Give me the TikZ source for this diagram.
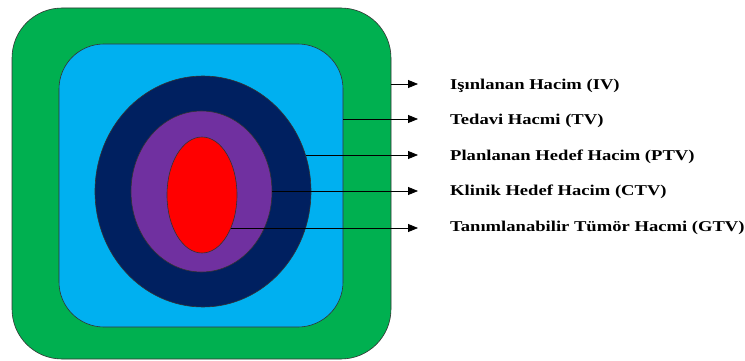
\documentclass[tikz,border=0pt]{standalone}
\usepackage{fontspec}
\setmainfont{Liberation Serif}
\newfontfamily\lblfont[FakeStretch=1.24]{Liberation Serif}
\usetikzlibrary{arrows.meta,shapes.geometric}
\definecolor{cgreen}{HTML}{00B050}
\definecolor{cblue}{HTML}{00B0F0}
\definecolor{cnavy}{HTML}{002060}
\definecolor{cpurple}{HTML}{7030A0}
\definecolor{cred}{HTML}{FF0000}
\tikzset{
  zone/.style={draw=black!80, line width=0.6pt},
  lbl/.style={anchor=west, font=\lblfont\bfseries\fontsize{15}{17}\selectfont, inner sep=0pt},
  pointer/.style={draw=black, line width=0.8pt, -{Triangle[length=10pt,width=8pt]}}
}
\begin{document}
\begin{tikzpicture}[x=1pt,y=-1pt]
\useasboundingbox (0,0) rectangle (745,361);
\path[zone, fill=cgreen, rounded corners=50pt] (12,8) rectangle (391,359);
\path[zone, fill=cblue, rounded corners=45pt] (59,44) rectangle (343,327);
\path[zone, fill=cnavy] (203,191.5) ellipse [x radius=108, y radius=115.5];
\path[zone, fill=cpurple] (201.5,191.5) ellipse [x radius=70.5, y radius=80.5];
\path[zone, fill=cred] (202,195) ellipse [x radius=35, y radius=58];
\coordinate (s1) at (391,84);
\coordinate (s2) at (343,119);
\coordinate (s3) at (306,155);
\coordinate (s4) at (272,191);
\coordinate (s5) at (231,228);
\coordinate (e1) at (418,84);
\coordinate (e2) at (418,119);
\coordinate (e3) at (418,155);
\coordinate (e4) at (418,191);
\coordinate (e5) at (418,228);
\node[lbl] (l1) at (450,85.5) {Işınlanan Hacim (IV)};
\node[lbl] (l2) at (450,120.5) {Tedavi Hacmi (TV)};
\node[lbl] (l3) at (450,156.5) {Planlanan Hedef Hacim (PTV)};
\node[lbl] (l4) at (450,191.5) {Klinik Hedef Hacim (CTV)};
\node[lbl] (l5) at (450,227.5) {Tanımlanabilir Tümör Hacmi (GTV)};
\draw[pointer] (s1) -- (e1);
\draw[pointer] (s2) -- (e2);
\draw[pointer] (s3) -- (e3);
\draw[pointer] (s4) -- (e4);
\draw[pointer] (s5) -- (e5);
\end{tikzpicture}
\end{document}
